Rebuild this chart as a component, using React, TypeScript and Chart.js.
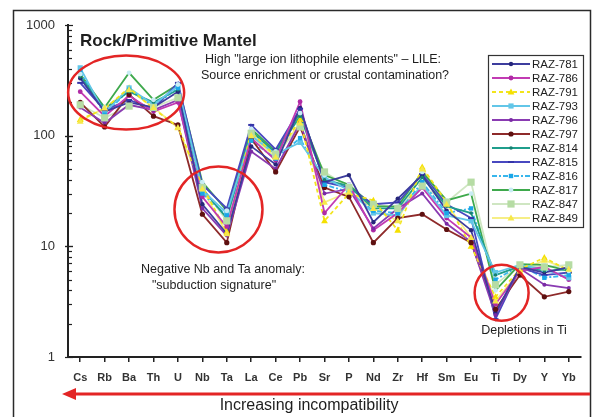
import React, { useEffect, useRef } from "react";
import { Chart, registerables } from "chart.js";

Chart.register(...registerables);

// Trace elements, ordered by decreasing incompatibility
const elements = ["Cs", "Rb", "Ba", "Th", "U", "Nb", "Ta", "La", "Ce", "Pb", "Sr", "P", "Nd", "Zr", "Hf", "Sm", "Eu", "Ti", "Dy", "Y", "Yb"];

// Sample / primitive mantle ratios
const raz781 = [330, 165, 200, 180, 250, 24, 13, 80, 55, 178, 38, 44, 16.5, 27, 44, 21, 14, 2.5, 6.5, 5.8, 6.5];
const raz786 = [250, 150, 230, 165, 200, 28, 15, 95, 60, 203, 20, 36, 14, 20, 34, 18, 12, 3.0, 6.0, 6.5, 5.0];
const raz791 = [140, 175, 270, 175, 120, 35, 13.5, 108, 65, 140, 17, 30, 26, 14, 52, 25, 10, 3.5, 6.2, 7.9, 6.0];
const raz793 = [410, 160, 270, 190, 280, 32, 20, 100, 68, 87, 42, 32, 20, 19, 36, 19, 17, 5.8, 6.8, 6.2, 5.2];
const raz796 = [180, 130, 190, 170, 210, 22, 12.5, 72, 50, 130, 30, 33, 14.5, 22, 30, 16, 11, 2.4, 6.3, 4.5, 4.2];
const raz797 = [200, 120, 235, 150, 125, 19.5, 10.8, 94, 47, 120, 34, 28, 10.8, 18, 19.5, 14.2, 10.8, 2.7, 5.5, 3.5, 3.9];
const raz814 = [340, 175, 250, 200, 260, 33, 18, 110, 70, 150, 40, 35, 22, 22, 42, 23, 20, 5.5, 6.6, 6.0, 6.2];
const raz815 = [300, 170, 210, 175, 300, 36, 22, 125, 75, 175, 38, 34, 24, 25, 45, 24, 18, 2.2, 6.4, 5.5, 5.8];
const raz816 = [380, 155, 260, 185, 270, 30, 19, 90, 62, 95, 36, 31, 21, 20, 38, 20, 22, 5.0, 6.7, 5.2, 5.5];
const raz817 = [360, 180, 370, 211, 290, 38, 21, 115, 72, 160, 44, 36, 23, 23, 47, 26, 30, 4.0, 6.9, 6.8, 6.0];
const raz847 = [190, 145, 185, 180, 220, 34, 17, 105, 68, 120, 47, 34, 24, 22, 35, 25, 38, 4.5, 6.8, 6.5, 6.8];
const raz849 = [135, 178, 260, 180, 118, 33, 13, 100, 64, 130, 25, 31, 22, 17, 50, 24, 12, 3.2, 6.0, 7.5, 6.2];

const yTickLabels = [1, 10, 100, 1000];

type Marker = "circle" | "triangle" | "rect" | "line";

const seriesDefs: { label: string; data: number[]; color: string; fill: string; dash: number[]; marker: Marker; r: number }[] = [
  { label: "RAZ-781", data: raz781, color: "#3d3d9e", fill: "#26267a", dash: [], marker: "circle", r: 2.2 },
  { label: "RAZ-786", data: raz786, color: "#c23bb3", fill: "#b02aa5", dash: [], marker: "circle", r: 2.4 },
  { label: "RAZ-791", data: raz791, color: "#f2e41c", fill: "#f5e000", dash: [4, 3], marker: "triangle", r: 3.6 },
  { label: "RAZ-793", data: raz793, color: "#62c6e8", fill: "#62c6e8", dash: [], marker: "rect", r: 2.6 },
  { label: "RAZ-796", data: raz796, color: "#8a3bb2", fill: "#7a2aa5", dash: [], marker: "circle", r: 2.0 },
  { label: "RAZ-797", data: raz797, color: "#8e2a2a", fill: "#5e1010", dash: [], marker: "circle", r: 2.6 },
  { label: "RAZ-814", data: raz814, color: "#1f9e8c", fill: "#178070", dash: [], marker: "circle", r: 1.8 },
  { label: "RAZ-815", data: raz815, color: "#4848c0", fill: "#3434a8", dash: [], marker: "line", r: 3 },
  { label: "RAZ-816", data: raz816, color: "#38b6ec", fill: "#1aa6e8", dash: [5, 2, 2, 2], marker: "rect", r: 2.2 },
  { label: "RAZ-817", data: raz817, color: "#3ea94c", fill: "#c8ecf4", dash: [], marker: "circle", r: 2.4 },
  { label: "RAZ-847", data: raz847, color: "#cfe6c2", fill: "#b6dca4", dash: [], marker: "rect", r: 3.6 },
  { label: "RAZ-849", data: raz849, color: "#f6ee86", fill: "#f6e84a", dash: [], marker: "triangle", r: 3.6 },
];

const FONT = "'Liberation Sans', Arial, Helvetica, sans-serif";
const RED = "#e32525";
const INK = "#1e1e1e";

function drawMarker(ctx: CanvasRenderingContext2D, m: Marker, x: number, y: number, r: number, color: string) {
  ctx.save();
  ctx.fillStyle = color;
  ctx.strokeStyle = color;
  ctx.beginPath();
  if (m === "circle") {
    ctx.arc(x, y, r, 0, Math.PI * 2);
    ctx.fill();
  } else if (m === "triangle") {
    ctx.moveTo(x, y - r);
    ctx.lineTo(x + r * 0.95, y + r * 0.7);
    ctx.lineTo(x - r * 0.95, y + r * 0.7);
    ctx.closePath();
    ctx.fill();
  } else if (m === "rect") {
    ctx.rect(x - r, y - r, r * 2, r * 2);
    ctx.fill();
  } else {
    ctx.lineWidth = 2;
    ctx.moveTo(x - r, y);
    ctx.lineTo(x + r, y);
    ctx.stroke();
  }
  ctx.restore();
}

// Frame, inner log ticks, annotations and the legend box
const decorations = {
  id: "decorations",
  afterDraw(chart: any) {
    const ctx: CanvasRenderingContext2D = chart.ctx;
    const xs = chart.scales.x;
    const ys = chart.scales.y;
    const area = chart.chartArea;
    ctx.save();

    // outer frame
    ctx.strokeStyle = "#2a2a2a";
    ctx.lineWidth = 1.5;
    ctx.strokeRect(13.5, 10.5, 577, 430);

    // inner minor ticks on the log axis
    ctx.strokeStyle = "#222";
    ctx.lineWidth = 1.2;
    for (let d = 1; d < 1000; d *= 10) {
      for (let k = 1; k <= 10; k++) {
        const v = d * k;
        const py = Math.round(ys.getPixelForValue(v)) + 0.5;
        const major = k === 1 || k === 10;
        ctx.beginPath();
        ctx.moveTo(area.left - (major ? 3 : 0), py);
        ctx.lineTo(area.left + (major ? 5 : 4), py);
        ctx.stroke();
      }
    }

    // red ellipses around the key features
    ctx.strokeStyle = RED;
    ctx.lineWidth = 2.5;
    const ell = (xi: number, v: number, rx: number, ry: number) => {
      ctx.beginPath();
      ctx.ellipse(xs.getPixelForValue(xi), ys.getPixelForValue(v), rx, ry, 0, 0, Math.PI * 2);
      ctx.stroke();
    };
    ell(1.88, 245, 58, 37);
    ell(5.66, 21.5, 44, 43);
    ell(17.25, 3.8, 27, 28);

    // arrow under the axis
    ctx.fillStyle = RED;
    ctx.lineWidth = 3;
    ctx.beginPath();
    ctx.moveTo(590, 394);
    ctx.lineTo(72, 394);
    ctx.stroke();
    ctx.beginPath();
    ctx.moveTo(62, 394);
    ctx.lineTo(76, 388);
    ctx.lineTo(76, 400);
    ctx.closePath();
    ctx.fill();

    // texts
    ctx.fillStyle = INK;
    ctx.textBaseline = "middle";
    ctx.textAlign = "left";
    ctx.font = `bold 17px ${FONT}`;
    ctx.fillText("Rock/Primitive Mantel", 80, 41);
    ctx.font = `12.5px ${FONT}`;
    ctx.fillText("High \"large ion lithophile elements\" \u2013 LILE:", 205, 60);
    ctx.fillText("Source enrichment or crustal contamination?", 201, 76);
    ctx.textAlign = "center";
    ctx.fillText("Negative Nb and Ta anomaly:", 223, 270);
    ctx.fillText("\"subduction signature\"", 214, 286);
    ctx.fillText("Depletions in Ti", 524, 331);
    ctx.font = `16px ${FONT}`;
    ctx.fillText("Increasing incompatibility", 309, 406);

    // legend
    ctx.fillStyle = "#fff";
    ctx.fillRect(488, 55, 95, 172);
    ctx.strokeStyle = "#333";
    ctx.lineWidth = 1.2;
    ctx.strokeRect(488.5, 55.5, 95, 172);
    ctx.font = `11.5px ${FONT}`;
    ctx.textAlign = "left";
    seriesDefs.forEach((s, i) => {
      const y = 64 + i * 14;
      ctx.strokeStyle = s.color;
      ctx.lineWidth = 1.8;
      ctx.setLineDash(s.dash);
      ctx.beginPath();
      ctx.moveTo(492, y);
      ctx.lineTo(530, y);
      ctx.stroke();
      ctx.setLineDash([]);
      drawMarker(ctx, s.marker, 511, y, s.r, s.fill);
      ctx.fillStyle = INK;
      ctx.fillText(s.label, 532, y + 0.5);
    });
    ctx.restore();
  },
};

// markers on the data points, drawn through the chart's scales
const markers = {
  id: "markers",
  afterDatasetsDraw(chart: any) {
    const ctx: CanvasRenderingContext2D = chart.ctx;
    chart.data.datasets.forEach((ds: any, i: number) => {
      const meta = chart.getDatasetMeta(i);
      const def = seriesDefs[i];
      meta.data.forEach((pt: any) => drawMarker(ctx, def.marker, pt.x, pt.y, def.r, def.fill));
    });
  },
};

export default function App() {
  const ref = useRef<HTMLCanvasElement | null>(null);

  useEffect(() => {
    if (!ref.current) return;
    Chart.defaults.font.family = FONT;
    const chart = new Chart(ref.current, {
      type: "line",
      data: {
        labels: elements,
        datasets: seriesDefs.map((s) => ({
          label: s.label,
          data: s.data,
          borderColor: s.color,
          backgroundColor: s.fill,
          borderDash: s.dash,
          borderWidth: 1.8,
          pointRadius: 0,
          tension: 0,
          fill: false,
        })),
      },
      options: {
        responsive: false,
        animation: false,
        layout: { padding: { top: 25, right: 16, left: 0, bottom: 0 } },
        plugins: { legend: { display: false }, tooltip: { enabled: false } },
        scales: {
          x: {
            type: "category",
            offset: true,
            grid: { display: true, drawOnChartArea: false, drawTicks: true, tickLength: 5, tickColor: "#222", lineWidth: 1.5 },
            border: { display: true, color: "#222", width: 2 },
            ticks: { color: "#333", font: { size: 11, weight: "bold" }, padding: 9, autoSkip: false, maxRotation: 0 },
            afterFit: (s: any) => {
              s.height = 60;
            },
          },
          y: {
            type: "logarithmic",
            min: 1,
            max: 1000,
            grid: { display: false },
            border: { display: true, color: "#222", width: 2 },
            ticks: {
              autoSkip: false,
              color: "#333",
              font: { size: 13 },
              padding: 5,
              callback: (v: any) => (yTickLabels.includes(Number(v)) ? String(v) : ""),
            },
            afterFit: (s: any) => {
              s.width = 68;
            },
          },
        },
      },
      plugins: [markers, decorations],
    });
    return () => chart.destroy();
  }, []);

  return (
    <div style={{ position: "fixed", left: 0, top: 0, width: 597, height: 417, background: "#fff" }}>
      <canvas ref={ref} width={597} height={417} style={{ display: "block" }} />
    </div>
  );
}
